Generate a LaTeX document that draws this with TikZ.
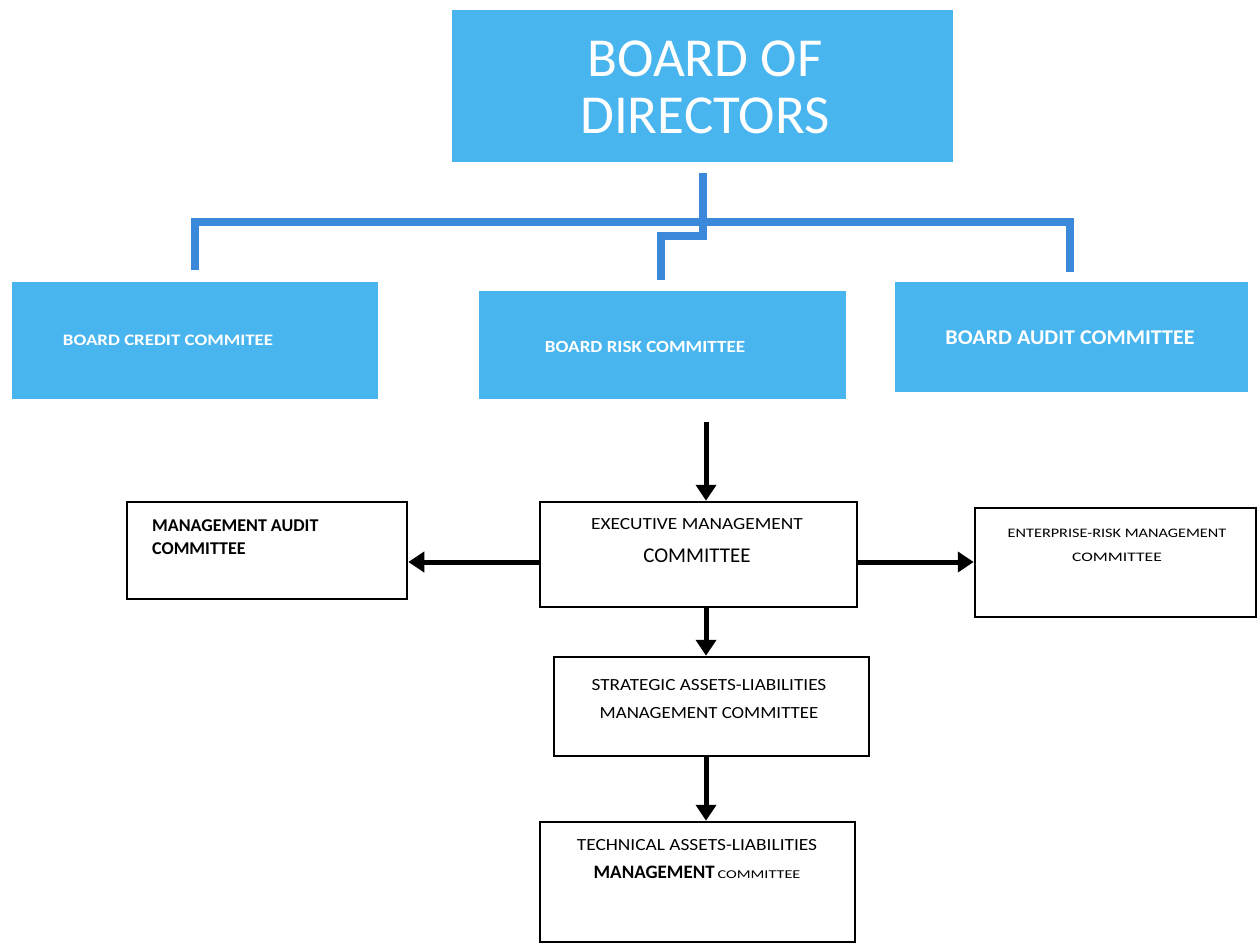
\documentclass[tikz,border=0pt]{standalone}
\usepackage{fontspec}
\setmainfont{Carlito}
\usetikzlibrary{arrows.meta,fit}
\definecolor{boardblue}{HTML}{49B5EF}
\definecolor{linkblue}{HTML}{3C88DA}
% horizontal stretch of one line of text
\newcommand\hs[2]{\scalebox{#1}[1]{#2}}
% font size with a given line spacing
\newcommand\fz[2]{\fontsize{#1}{#2}\selectfont}
\begin{document}
\begin{tikzpicture}[x=1pt,y=-1pt,
  boardbox/.style={fill=boardblue, inner sep=0pt},
  mgmtbox/.style={draw=black, line width=2.5pt, fill=white, inner sep=0pt},
  whitetext/.style={text=white, inner sep=0pt, align=center},
  blacktext/.style={text=black, inner sep=0pt, align=center},
  treeline/.style={draw=linkblue, line width=7.5pt},
  flow/.style={draw=black, line width=5pt, -{Triangle[width=20pt,length=16pt]}}]
\useasboundingbox (0,0) rectangle (1257,944);

% board level
\node[boardbox, fit={(452,10)(953,162)}] (bod) {};
\node[boardbox, fit={(12,282)(378,399)}] (credit) {};
\node[boardbox, fit={(479,291)(846,399)}] (risk) {};
\node[boardbox, fit={(895,282)(1248,392)}] (baudit) {};

\node[whitetext, font=\fz{55}{57}] (bodt) at (705,87) {BOARD OF\\DIRECTORS};
\node[whitetext, font=\bfseries\fz{16}{20}] (creditt) at (168,340) {\hs{1.18}{BOARD CREDIT COMMITEE}};
\node[whitetext, font=\bfseries\fz{17}{20}] (riskt) at (645,347) {\hs{1.12}{BOARD RISK COMMITTEE}};
\node[whitetext, font=\bfseries\fz{21}{24}] (bauditt) at (1070,338) {\hs{1.05}{BOARD AUDIT COMMITTEE}};

% links from the board to its committees
\coordinate (stem) at (703,222);
\coordinate (tm) at (703,236);
\coordinate (mbend) at (661,236);
\coordinate (tl) at (195,222);
\coordinate (tr) at (1070,222);
\draw[treeline] ([yshift=-11pt]bod.south -| stem) -- (tm) -- (mbend) -- ([yshift=11pt]risk.north -| mbend);
\draw[treeline] ([yshift=12pt]credit.north -| tl) -- (tl) -- (tr) -- ([yshift=10pt]baudit.north -| tr);

% management level
\node[mgmtbox, fit={(127,502)(407,599)}] (mau) {};
\node[mgmtbox, fit={(540,502)(857,607)}] (exec) {};
\node[mgmtbox, fit={(975,508)(1256,617)}] (ent) {};
\node[mgmtbox, fit={(554,657)(869,756)}] (strat) {};
\node[mgmtbox, fit={(540,822)(855,942)}] (tech) {};

\node[blacktext, align=left, anchor=west, font=\bfseries\fz{18}{23}] (maut) at (152,537) {MANAGEMENT AUDIT\\COMMITTEE};
\node[blacktext, font=\fz{17}{33}] (exect) at (697,541) {\hs{1.14}{EXECUTIVE MANAGEMENT}\\{\fz{21}{33}COMMITTEE}};
\node[blacktext, font=\fz{13}{24}] (entt) at (1117,545) {\hs{1.25}{ENTERPRISE-RISK MANAGEMENT}\\\hs{1.35}{COMMITTEE}};
\node[blacktext, font=\fz{17}{28}] (stratt) at (709,699) {\hs{1.13}{STRATEGIC ASSETS-LIABILITIES}\\\hs{1.11}{MANAGEMENT COMMITTEE}};
\node[blacktext, font=\fz{17}{28}] (techt) at (697,859) {\hs{1.14}{TECHNICAL ASSETS-LIABILITIES}\\{\bfseries\fz{19}{28}MANAGEMENT}\,\hs{1.35}{\fz{12}{28}COMMITTEE}};

% reporting arrows
\coordinate (fx) at (706,0);
\coordinate (fy) at (0,562);
\draw[flow] ([yshift=-23pt]risk.south -| fx) -- (exec.north -| fx);
\draw[flow] (exec.west |- fy) -- (mau.east |- fy);
\draw[flow] (exec.east |- fy) -- (ent.west |- fy);
\draw[flow] (exec.south -| fx) -- (strat.north -| fx);
\draw[flow] (strat.south -| fx) -- (tech.north -| fx);
\end{tikzpicture}
\end{document}
